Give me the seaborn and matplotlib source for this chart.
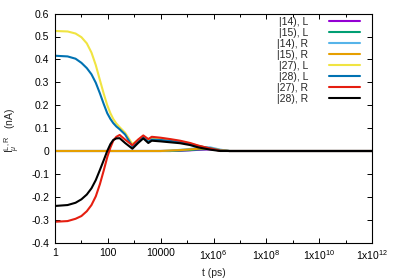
import matplotlib
matplotlib.use("Agg")
import matplotlib.pyplot as plt
import matplotlib.ticker as mticker
import seaborn as sns
import pandas as pd

# time grid (ps)
t = [1, 3, 6, 10, 16, 24, 35, 50, 70, 95, 125, 160, 210, 280, 450, 850, 1400, 2200,
     3400, 4600, 1e4, 2.3e4, 5.4e4, 1.3e5, 2.6e5, 7.4e5, 1.8e6, 4e6, 1e7, 1e12]

s14L = [0]*22 + [0.001, 0.003, 0.005, 0.007, 0.003, 0, 0, 0]
s15L = [0]*22 + [0.002, 0.004, 0.007, 0.009, 0.004, 0, 0, 0]
s14R = [0]*21 + [0.002, 0.005, 0.009, 0.013, 0.016, 0.006, 0, 0, 0]
s15R = [0]*21 + [0.002, 0.004, 0.007, 0.010, 0.012, 0.004, 0, 0, 0]
s27L = [0.524, 0.522, 0.513, 0.497, 0.47, 0.43, 0.375, 0.31, 0.25, 0.2, 0.165, 0.14,
        0.12, 0.104, 0.08, 0.03, 0.048, 0.064, 0.05, 0.058, 0.055, 0.049, 0.042, 0.033,
        0.023, 0.011, 0.001, 0, 0, 0]
s28L = [0.416, 0.413, 0.403, 0.385, 0.362, 0.335, 0.298, 0.252, 0.205, 0.165, 0.14,
        0.122, 0.107, 0.095, 0.072, 0.02, 0.04, 0.06, 0.04, 0.05, 0.048, 0.044, 0.039,
        0.031, 0.022, 0.012, 0.002, 0, 0, 0]
s27R = [-0.309, -0.306, -0.296, -0.284, -0.263, -0.236, -0.198, -0.145, -0.085, -0.027, 0.015,
        0.045, 0.062, 0.07, 0.05, 0.025, 0.05, 0.068, 0.052, 0.062, 0.058, 0.052, 0.045,
        0.035, 0.024, 0.011, 0.001, 0, 0, 0]
s28R = [-0.24, -0.236, -0.226, -0.211, -0.19, -0.163, -0.127, -0.083, -0.04, 0.0, 0.03,
        0.048, 0.055, 0.056, 0.035, 0.01, 0.035, 0.055, 0.035, 0.045, 0.042, 0.038, 0.034,
        0.026, 0.016, 0.006, 0.0, 0, 0, 0]

labels = ["|14), L", "|15), L", "|14), R", "|15), R",
          "|27), L", "|28), L", "|27), R", "|28), R"]
series = [s14L, s15L, s14R, s15R, s27L, s28L, s27R, s28R]
colors = ["#9400d3", "#009e73", "#56b4e9", "#e69f00",
          "#f0e442", "#0072b2", "#e51e10", "#000000"]

xticks = [1, 1e2, 1e4, 1e6, 1e8, 1e10, 1e12]
xminor = [1e1, 1e3, 1e5, 1e7, 1e9, 1e11]
xticklabels = ["1", "100", "10000", "1x10$^{6}$", "1x10$^{8}$", "1x10$^{10}$", "1x10$^{12}$"]
yticks = [-0.4, -0.3, -0.2, -0.1, 0, 0.1, 0.2, 0.3, 0.4, 0.5, 0.6]
yticklabels = ["-0.4", "-0.3", "-0.2", "-0.1", "0", "0.1", "0.2", "0.3", "0.4", "0.5", "0.6"]

df = pd.concat([pd.DataFrame({"t": t, "I": s, "state": lab})
                for s, lab in zip(series, labels)], ignore_index=True)

sns.set_style("ticks")
plt.rcParams["font.family"] = ["Liberation Sans", "DejaVu Sans"]
plt.rcParams["mathtext.fontset"] = "custom"
plt.rcParams["mathtext.rm"] = "Liberation Sans"
plt.rcParams["mathtext.it"] = "Liberation Sans:italic"

fig = plt.figure(figsize=(3.99, 2.79), dpi=100)
ax = fig.add_axes([55/399, 1 - 242.6/279, (372-55)/399, (242.6-13.6)/279])

sns.lineplot(data=df, x="t", y="I", hue="state", hue_order=labels,
             palette=colors, estimator=None, sort=False, lw=1.5, ax=ax)

ax.set_xscale("log")
ax.set_xlim(1, 1e12)
ax.set_ylim(-0.4, 0.6)
ax.xaxis.set_major_locator(mticker.FixedLocator(xticks))
ax.xaxis.set_minor_locator(mticker.FixedLocator(xminor))
ax.set_xticklabels(xticklabels)
ax.xaxis.set_minor_formatter(mticker.NullFormatter())
ax.set_yticks(yticks)
ax.set_yticklabels(yticklabels)

ax.tick_params(which="both", direction="in", top=True, right=True, labelsize=7.5,
               width=0.7, colors="black")
ax.tick_params(which="major", length=3.5, pad=4)
ax.tick_params(which="minor", length=2)
for sp in ax.spines.values():
    sp.set_linewidth(0.8)
    sp.set_color("black")

ax.set_xlabel("t (ps)", fontsize=7.5, labelpad=4)
ax.set_ylabel(r"I$^{\rm L,R}_{\mu}$   (nA)", fontsize=7.5)
ax.yaxis.set_label_coords(-33/317, 0.49)

ax.legend(loc="upper right", bbox_to_anchor=(1 - 12/317, 1 - 3/229),
          frameon=False, markerfirst=False, fontsize=7.5,
          handlelength=3.0, handletextpad=2.0, labelspacing=0.1,
          borderaxespad=0, borderpad=0)

fig.savefig("out.png", dpi=100)
